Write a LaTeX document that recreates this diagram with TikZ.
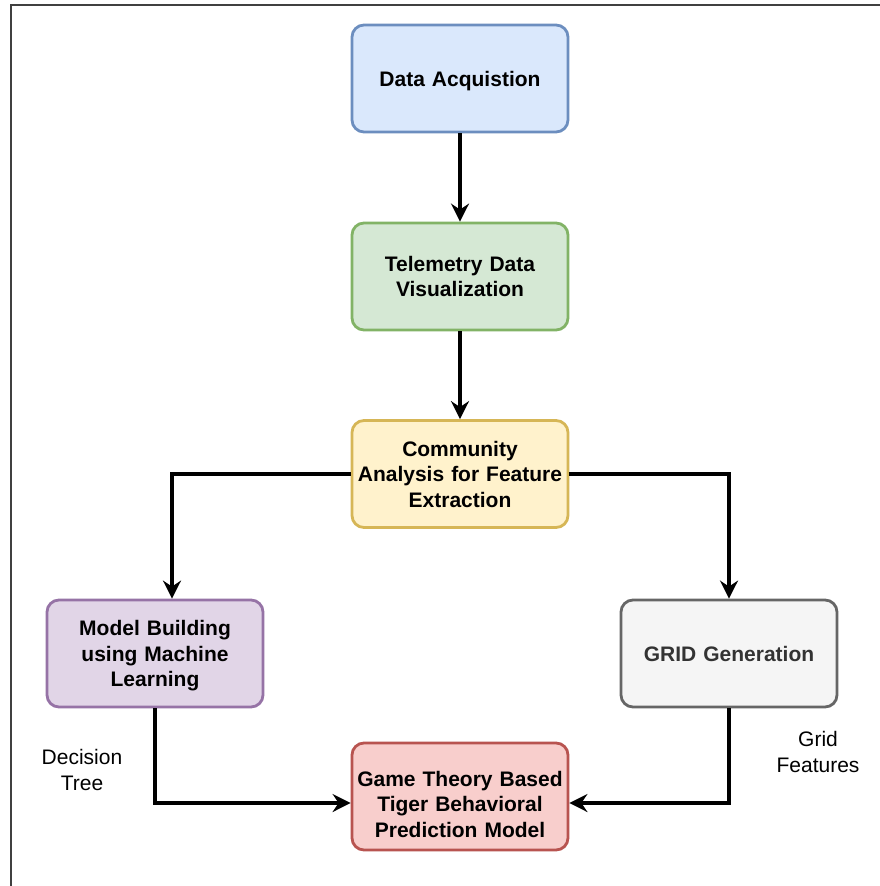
\documentclass[tikz,border=0pt]{standalone}
\usepackage{fontspec}
\setmainfont{Liberation Sans}
\usetikzlibrary{arrows.meta,calc}
\definecolor{bfill}{HTML}{DAE8FC}\definecolor{bdraw}{HTML}{6C8EBF}
\definecolor{gfill}{HTML}{D5E8D4}\definecolor{gdraw}{HTML}{82B366}
\definecolor{yfill}{HTML}{FFF2CC}\definecolor{ydraw}{HTML}{D6B656}
\definecolor{pfill}{HTML}{E1D5E7}\definecolor{pdraw}{HTML}{9673A6}
\definecolor{sfill}{HTML}{F5F5F5}\definecolor{sdraw}{HTML}{666666}
\definecolor{rfill}{HTML}{F8CECC}\definecolor{rdraw}{HTML}{B85450}
\definecolor{stext}{HTML}{333333}
\tikzset{
  box/.style={rectangle, rounded corners=12pt, line width=2.8pt, minimum width=216pt, minimum height=107pt, inner sep=0pt, text width=206pt, align=center, font=\fontsize{21}{25.5}\selectfont\bfseries},
  conn/.style={line width=3.2pt, -{Stealth[length=18pt,width=18pt,inset=6pt]}},
  lbl/.style={align=center, inner sep=0pt, font=\fontsize{21}{26}\selectfont},
  frame/.style={line width=1.5pt, draw=black!75}
}
\begin{document}
\begin{tikzpicture}[x=1pt,y=-1pt]
\useasboundingbox (0,0) rectangle (880,886);
\fill[white] (0,0) rectangle (880,886);
\draw[frame] (11,886) -- (11,5) -- (880,5);
\node[box, fill=bfill, draw=bdraw] (da) at (460,78.5) {\rule{0pt}{19.5pt}Data Acquistion};
\node[box, fill=gfill, draw=gdraw] (tel) at (460,276.5) {Telemetry Data\\Visualization};
\node[box, fill=yfill, draw=ydraw] (com) at (460,474) {Community\\Analysis for Feature\\Extraction};
\node[box, fill=pfill, draw=pdraw] (model) at (155,653.5) {\rule{0pt}{19.5pt}Model Building\\using Machine\\Learning};
\node[box, fill=sfill, draw=sdraw, text=stext] (grid) at (729,653.5) {GRID Generation};
\node[box, fill=rfill, draw=rdraw] (game) at (460,796.5) {\rule{0pt}{31pt}Game Theory Based\\Tiger Behavioral\\Prediction Model};
\node[lbl] (dt) at (82,770) {Decision\\Tree};
\node[lbl] (gf) at (818,752) {Grid\\Features};
\coordinate (mtop) at ($(model.north)+(17,0)$);
\coordinate (gw) at ($(game.west)+(0,6.5)$);
\coordinate (ge) at ($(game.east)+(0,6.5)$);
\draw[conn] (da) -- (tel);
\draw[conn] (tel) -- (com);
\draw[conn] (com.west) -| (mtop);
\draw[conn] (com.east) -| (grid.north);
\draw[conn] (model.south) |- (gw);
\draw[conn] (grid.south) |- (ge);
\end{tikzpicture}
\end{document}
